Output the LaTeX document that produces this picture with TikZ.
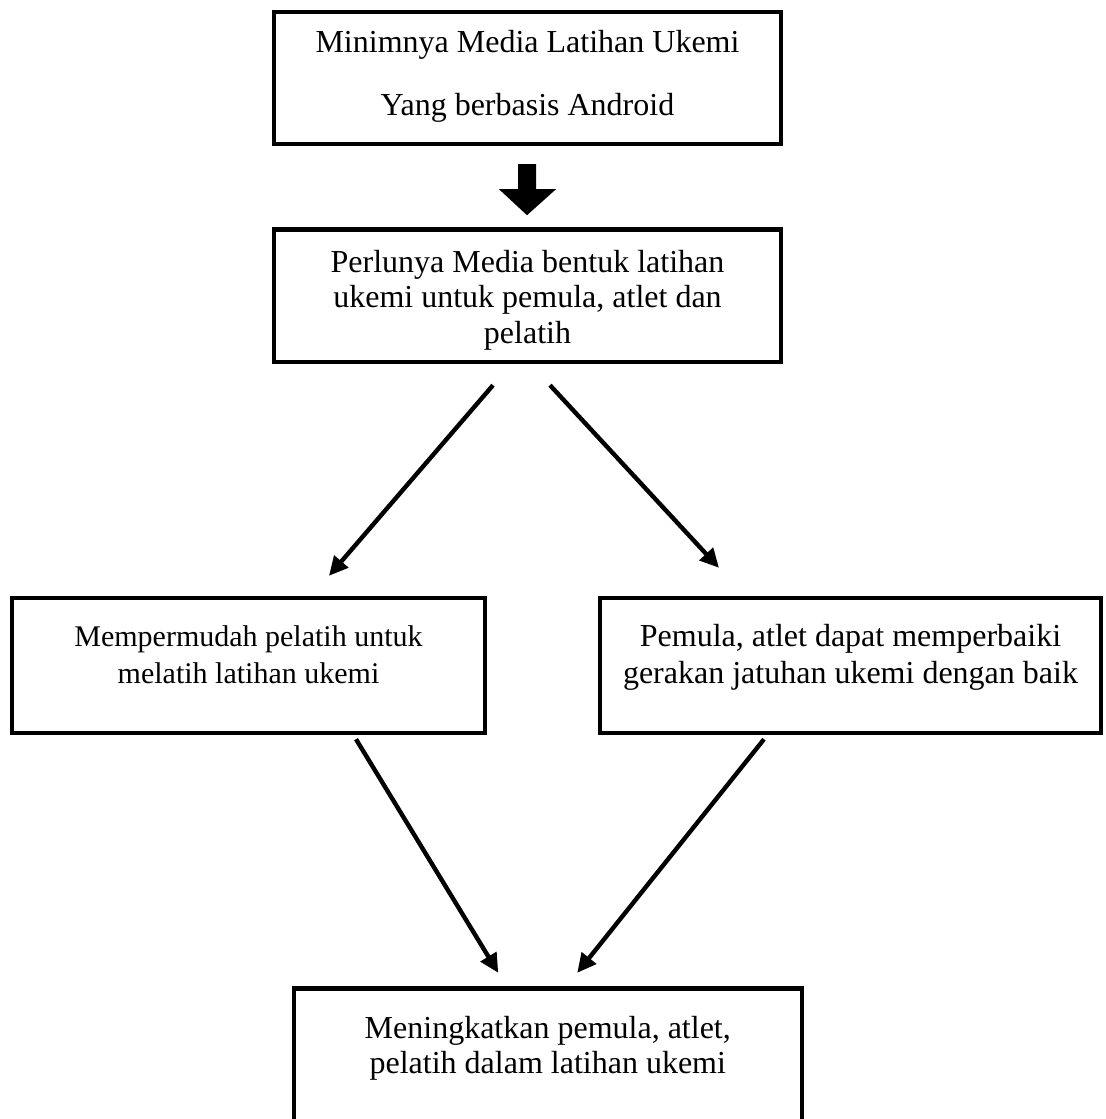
\documentclass[tikz,border=0pt]{standalone}
\usepackage{fontspec}
\setmainfont{Liberation Serif}
\usetikzlibrary{arrows.meta,calc}
\tikzset{
  box/.style={draw=black, line width=2.2pt, rectangle, inner sep=0pt},
  txt/.style={anchor=base, inner sep=0pt, font=\fontsize{16pt}{18pt}\selectfont},
  txtsmall/.style={anchor=base, inner sep=0pt, font=\fontsize{15pt}{18pt}\selectfont},
  arr/.style={line width=2.2pt, -{Triangle[length=9.5pt,width=9pt]}},
  blockarrow/.style={fill=black}
}
\begin{document}
\begin{tikzpicture}[x=0.5pt,y=-0.5pt]
\useasboundingbox (0,0) rectangle (1105,1119);
% boxes
\node[box, minimum width=253.5pt, minimum height=66pt] (b1) at (527.5,78) {};
\node[box, minimum width=253.5pt, minimum height=66.25pt] (b2) at (527.5,295.75) {};
\node[box, minimum width=236.5pt, minimum height=67.5pt] (b3) at (248.5,665.5) {};
\node[box, minimum width=250.5pt, minimum height=67.5pt] (b4) at (850.5,665.5) {};
\node[box, minimum width=254pt, minimum height=80.75pt] (b5) at (547.75,1069.25) {};
% texts
\node[txt] (t1a) at (527.5,53) {Minimnya Media Latihan Ukemi};
\node[txt] (t1b) at (527.5,115) {Yang berbasis Android};
\node[txt] (t2a) at (527.5,272) {Perlunya Media bentuk latihan};
\node[txt] (t2b) at (527.5,307) {ukemi untuk pemula, atlet dan};
\node[txt] (t2c) at (527.5,343) {pelatih};
\node[txtsmall] (t3a) at (248.5,646) {Mempermudah pelatih untuk};
\node[txtsmall] (t3b) at (248.5,683) {melatih latihan ukemi};
\node[txt] (t4a) at (850.5,646) {Pemula, atlet dapat memperbaiki};
\node[txt] (t4b) at (850.5,683) {gerakan jatuhan ukemi dengan baik};
\node[txt] (t5a) at (547.75,1038) {Meningkatkan pemula, atlet,};
\node[txt] (t5b) at (547.75,1073) {pelatih dalam latihan ukemi};
% block arrow between b1 and b2
\fill[blockarrow] ($(b1.south)+(-9.5,18)$) -- ($(b1.south)+(8.5,18)$) -- ($(b1.south)+(8.5,43)$) -- ($(b1.south)+(28.5,43)$) -- ($(b1.south)+(-0.5,69)$) -- ($(b1.south)+(-28.5,43)$) -- ($(b1.south)+(-9.5,43)$) -- cycle;
% connector end points
\coordinate (aS) at ($(b2.south)+(-34.5,21)$);
\coordinate (bS) at ($(b2.south)+(22.5,21)$);
\coordinate (aE) at ($(b3.north)+(80.5,-20)$);
\coordinate (bE) at ($(b4.north)+(-131.5,-28)$);
\coordinate (cS) at ($(b3.south)+(107.5,4)$);
\coordinate (dS) at ($(b4.south)+(-86.5,4)$);
\coordinate (cE) at ($(b5.north)+(-49.5,-13.5)$);
\coordinate (dE) at ($(b5.north)+(29.5,-13.5)$);
\draw[arr] (aS) -- (aE);
\draw[arr] (bS) -- (bE);
\draw[arr] (cS) -- (cE);
\draw[arr] (dS) -- (dE);
\end{tikzpicture}
\end{document}
